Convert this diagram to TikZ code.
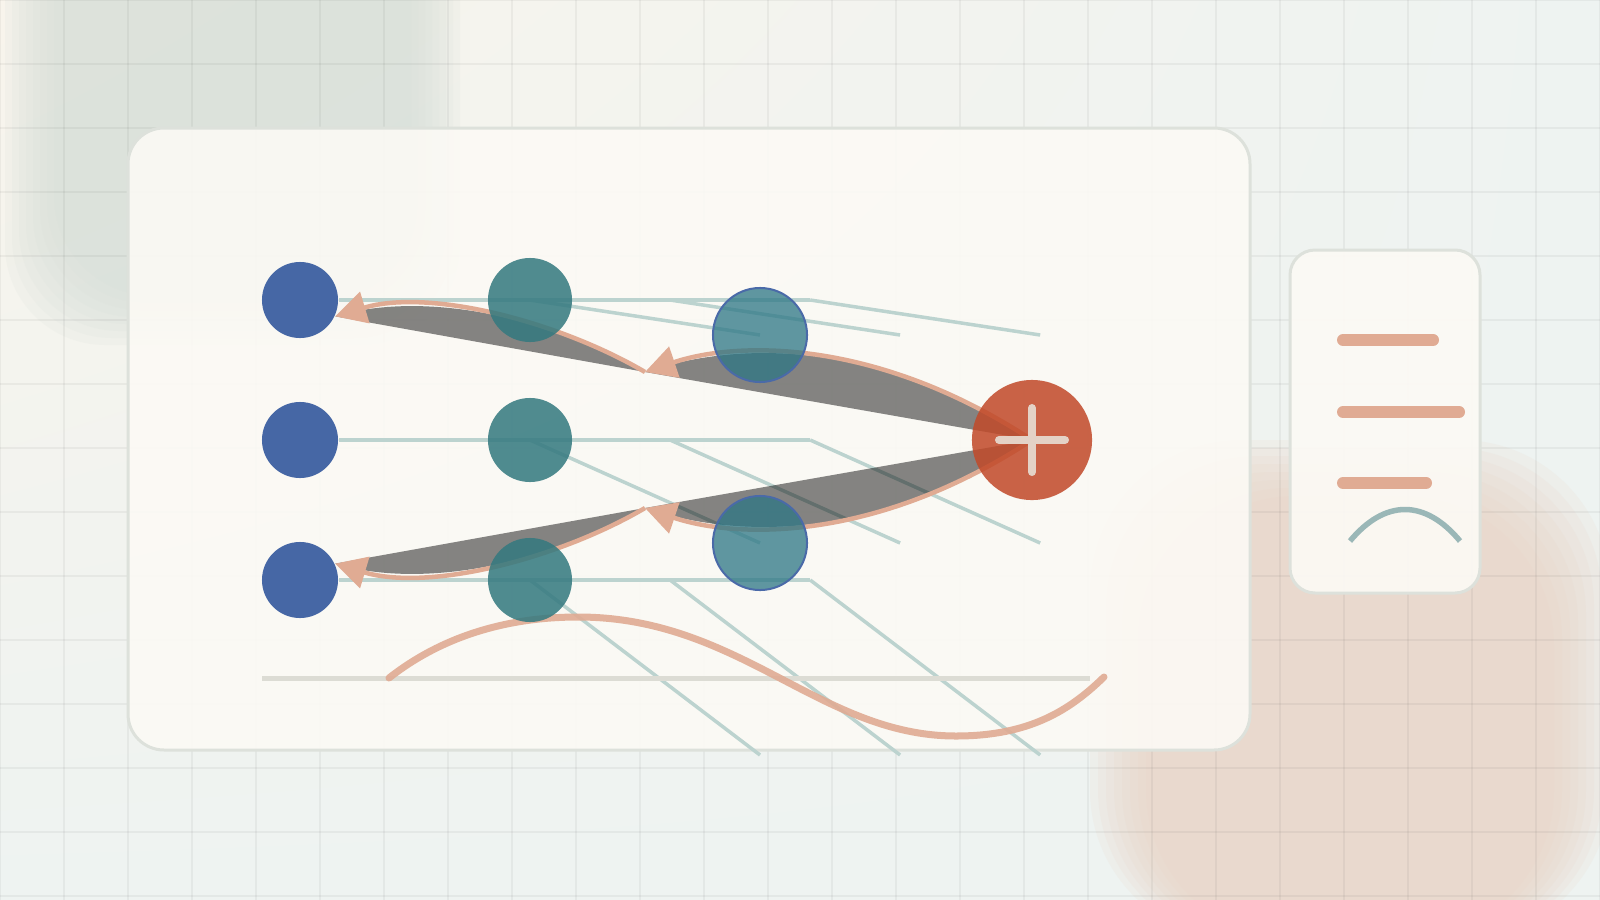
\documentclass[tikz,border=0pt]{standalone}
\usetikzlibrary{arrows.meta,shadings}
\definecolor{bgA}{HTML}{F8F4EC}
\definecolor{bgB}{HTML}{EEF3F1}
\definecolor{sage}{HTML}{D6DFD8}
\definecolor{peach}{HTML}{E9D2C3}
\definecolor{panel}{HTML}{FCFAF5}
\definecolor{rim}{HTML}{DDE1DB}
\definecolor{wire}{HTML}{BCD3CF}
\definecolor{salmon}{HTML}{E0AB93}
\definecolor{nblue}{HTML}{4667A5}
\definecolor{nteal}{HTML}{34797F}
\definecolor{nmid}{HTML}{2C7685}
\definecolor{nrim}{HTML}{4A6AA8}
\definecolor{nred}{HTML}{C14A2A}
\definecolor{cross}{HTML}{E4D2C6}
\definecolor{rulecol}{HTML}{DCDCD4}
\definecolor{arcline}{HTML}{9AB7B7}
\pgfdeclarelayer{back}
\pgfdeclarelayer{edges}
\pgfsetlayers{back,edges,main}

\begin{document}
\begin{tikzpicture}[x=0.01cm,y=-0.01cm,
  wire/.style={draw=wire,line width=0.035cm},
  flow/.style={draw=salmon,line width=0.045cm,-{Triangle[length=0.31cm,width=0.32cm]},
    preaction={fill=black,fill opacity=0.47}},
  inp/.style={circle,fill=nblue,inner sep=0,minimum size=0.76cm},
  hid/.style={circle,fill=nteal,fill opacity=0.86,inner sep=0,minimum size=0.84cm},
  mid/.style={circle,fill=nmid,fill opacity=0.75,draw=nrim,line width=0.02cm,inner sep=0,minimum size=0.94cm},
  sum/.style={circle,fill=nred,fill opacity=0.86,inner sep=0,minimum size=1.2cm},
  bar/.style={draw=salmon,line width=0.12cm,line cap=round}]
\useasboundingbox (0,0) rectangle (1600,900);
\clip (0,0) rectangle (1600,900);

\begin{pgfonlayer}{back}
\shade[upper left=bgA,upper right=bgB,lower left=bgB,lower right=bgB] (0,0) rectangle (1600,900);
\foreach \k in {0,...,7}
  \fill[sage,opacity=0.15,rounded corners=1cm] (5+\k*7,-100) rectangle (460-\k*7,345-\k*7);
\foreach \k in {0,...,7}
  \fill[peach,opacity=0.15,rounded corners=1.5cm] (1090+\k*8,440+\k*8) rectangle (1610-\k*8,940);
\foreach \x in {0,64,...,1600}
  \draw[black,opacity=0.045,line width=0.015cm] (\x,0) -- (\x,900);
\foreach \y in {0,64,...,896}
  \draw[black,opacity=0.045,line width=0.015cm] (0,\y) -- (1600,\y);
\draw[fill=panel,fill opacity=0.9,draw=rim,line width=0.03cm,rounded corners=0.36cm] (128,128) rectangle (1250,750);
\draw[fill=panel,fill opacity=0.92,draw=rim,line width=0.03cm,rounded corners=0.25cm] (1290,250) rectangle (1480,593);
\draw[bar] (1343,340) -- (1433,340);
\draw[bar] (1343,412) -- (1459,412);
\draw[bar] (1343,483) -- (1426,483);
\draw[arcline,line width=0.055cm] (1350,541) .. controls (1385,499) and (1425,499) .. (1460,541);
\end{pgfonlayer}

\node[inp] (a1) at (300,300) {};
\node[inp] (a2) at (300,440) {};
\node[inp] (a3) at (300,580) {};
\node[hid] (b1) at (530,300) {};
\node[hid] (b2) at (530,440) {};
\node[hid] (b3) at (530,580) {};
\node[mid] (m1) at (760,335) {};
\node[mid] (m2) at (760,543) {};
\coordinate (m3) at (760,755);
\node[sum] (plus) at (1032,440) {};
\draw[cross,line width=0.08cm,line cap=round] ([xshift=-0.33cm]plus.center) -- ([xshift=0.33cm]plus.center);
\draw[cross,line width=0.08cm,line cap=round] ([yshift=-0.32cm]plus.center) -- ([yshift=0.32cm]plus.center);
\coordinate (u1) at (645,372);
\coordinate (l1) at (645,508);

\begin{pgfonlayer}{edges}
\foreach \i in {1,2,3}{
  \draw[wire] (a\i) -- ([xshift=2.8cm]b\i.center);
  \foreach \s in {0,1.4,2.8}
    \draw[wire] ([xshift=\s cm]b\i.center) -- ([xshift=\s cm]m\i.center);
}
\draw[rulecol,line width=0.05cm] (262,678) -- (1090,678);
\draw[salmon,opacity=0.9,line width=0.07cm,line cap=round] (389,678)
  .. controls (450,630) and (520,617) .. (578,617)
  .. controls (740,617) and (820,736) .. (956,736)
  .. controls (1030,736) and (1070,710) .. (1104,677);
\draw[flow] (plus.center) .. controls (880,340) and (740,340) .. (u1);
\draw[flow] (u1) .. controls (560,322) and (430,288) .. (a1.-25);
\draw[flow] (plus.center) .. controls (880,540) and (740,540) .. (l1);
\draw[flow] (l1) .. controls (560,558) and (430,592) .. (a3.25);
\end{pgfonlayer}
\end{tikzpicture}
\end{document}
